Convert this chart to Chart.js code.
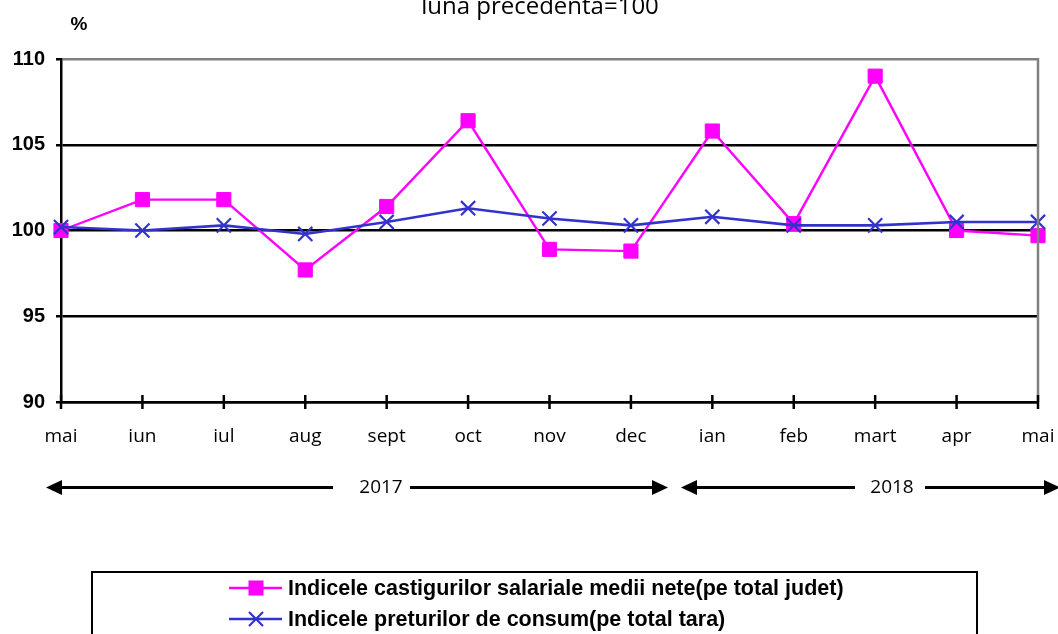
<!DOCTYPE html>
<html>
<head>
<meta charset="utf-8">
<script src="https://cdn.jsdelivr.net/npm/chart.js@4/dist/chart.umd.min.js"></script>
<style>
  html, body { margin: 0; padding: 0; background: #fff; }
  #wrap { width: 1058px; height: 634px; position: relative; }
</style>
</head>
<body>
<div id="wrap"><canvas id="c"></canvas></div>
<script>
const months = ['mai','iun','iul','aug','sept','oct','nov','dec','ian','feb','mart','apr','mai'];
const salaryIndex = [100.0, 101.8, 101.8, 97.7, 101.4, 106.4, 98.9, 98.8, 105.8, 100.4, 109.0, 100.0, 99.7];
const cpiIndex = [100.2, 100.0, 100.3, 99.8, 100.5, 101.3, 100.7, 100.3, 100.8, 100.3, 100.3, 100.5, 100.5];
const years = ['2017', '2018'];
const seriesNames = ['Indicele castigurilor salariale medii nete(pe total judet)', 'Indicele preturilor de consum(pe total tara)'];
const titleText = 'luna precedenta=100';
const unitText = '%';
const yMin = 90, yMax = 110, yStep = 5;

const PINK = '#FF00FF';
const BLUE = '#3333CC';

const decor = {
  id: 'decor',
  afterDraw(chart) {
    const ctx = chart.ctx;
    const a = chart.chartArea;
    const x = chart.scales.x;
    ctx.save();
    // right gray border
    ctx.strokeStyle = '#808080';
    ctx.lineWidth = 2.5;
    ctx.beginPath();
    ctx.moveTo(a.right, a.top - 1);
    ctx.lineTo(a.right, a.bottom);
    ctx.stroke();
    // x tick marks crossing the axis
    ctx.strokeStyle = '#000';
    ctx.lineWidth = 2.5;
    for (let i = 0; i < months.length; i++) {
      const px = x.getPixelForTick(i);
      ctx.beginPath();
      ctx.moveTo(px, a.bottom - 7);
      ctx.lineTo(px, a.bottom + 7);
      ctx.stroke();
    }
    // title
    ctx.fillStyle = '#000';
    ctx.font = '24px "Open Sans"';
    ctx.textAlign = 'center';
    ctx.textBaseline = 'alphabetic';
    ctx.fillText(titleText, 540, 14);
    // unit
    ctx.font = 'bold 19px "Liberation Sans"';
    ctx.fillText(unitText, 79, 30);

    // year arrows
    const ay = 487.5;
    function arrowLine(x1, x2, headLeft, headRight) {
      ctx.strokeStyle = '#000';
      ctx.fillStyle = '#000';
      ctx.lineWidth = 3;
      ctx.beginPath();
      ctx.moveTo(headLeft ? x1 + 10 : x1, ay);
      ctx.lineTo(headRight ? x2 - 10 : x2, ay);
      ctx.stroke();
      if (headLeft) {
        ctx.beginPath();
        ctx.moveTo(x1, ay);
        ctx.lineTo(x1 + 16, ay - 7.5);
        ctx.lineTo(x1 + 16, ay + 7.5);
        ctx.closePath();
        ctx.fill();
      }
      if (headRight) {
        ctx.beginPath();
        ctx.moveTo(x2, ay);
        ctx.lineTo(x2 - 16, ay - 7.5);
        ctx.lineTo(x2 - 16, ay + 7.5);
        ctx.closePath();
        ctx.fill();
      }
    }
    arrowLine(46, 333, true, false);
    arrowLine(410, 668, false, true);
    arrowLine(681, 855, true, false);
    arrowLine(925, 1060, false, true);
    ctx.fillStyle = '#000';
    ctx.font = '19px "Open Sans"';
    ctx.textAlign = 'center';
    ctx.textBaseline = 'middle';
    ctx.fillText(years[0], 381, ay);
    ctx.fillText(years[1], 892, ay);

    // legend box
    ctx.strokeStyle = '#000';
    ctx.lineWidth = 2;
    ctx.strokeRect(92, 572, 885, 80);
    const rows = [588, 619];
    chart.data.datasets.forEach((ds, i) => {
      const ry = rows[i];
      ctx.strokeStyle = ds.borderColor;
      ctx.lineWidth = ds.borderWidth;
      ctx.beginPath();
      ctx.moveTo(229, ry);
      ctx.lineTo(282, ry);
      ctx.stroke();
      const mx = 256;
      if (ds.pointStyle === 'rect') {
        ctx.fillStyle = ds.pointBackgroundColor;
        ctx.fillRect(mx - 7.5, ry - 7.5, 15, 15);
      } else {
        ctx.lineWidth = ds.pointBorderWidth;
        ctx.beginPath();
        ctx.moveTo(mx - 7, ry - 7); ctx.lineTo(mx + 7, ry + 7);
        ctx.moveTo(mx - 7, ry + 7); ctx.lineTo(mx + 7, ry - 7);
        ctx.stroke();
      }
      ctx.fillStyle = '#000';
      ctx.font = 'bold 21.5px "Liberation Sans"';
      ctx.textAlign = 'left';
      ctx.textBaseline = 'middle';
      ctx.fillText(ds.label, 288, ry + 1);
    });
    ctx.restore();
  }
};

new Chart(document.getElementById('c'), {
  type: 'line',
  data: {
    labels: months,
    datasets: [
      {
        label: seriesNames[0],
        data: salaryIndex,
        borderColor: PINK,
        backgroundColor: PINK,
        borderWidth: 2.4,
        pointStyle: 'rect',
        pointRadius: 10,
        pointBackgroundColor: PINK,
        pointBorderColor: PINK,
        pointBorderWidth: 1,
        tension: 0,
        clip: false,
        order: 2
      },
      {
        label: seriesNames[1],
        data: cpiIndex,
        borderColor: BLUE,
        backgroundColor: BLUE,
        borderWidth: 2.6,
        pointStyle: 'crossRot',
        pointRadius: 10,
        pointBorderColor: BLUE,
        pointBackgroundColor: BLUE,
        pointBorderWidth: 2.2,
        tension: 0,
        clip: false,
        order: 1
      }
    ]
  },
  options: {
    responsive: true,
    maintainAspectRatio: false,
    animation: false,
    devicePixelRatio: 1,
    layout: { padding: { top: 59, right: 20, left: 0, bottom: 0 } },
    plugins: {
      legend: { display: false },
      tooltip: { enabled: false },
      title: { display: false }
    },
    scales: {
      x: {
        type: 'category',
        offset: false,
        grid: { display: false, drawTicks: true, tickLength: 23, drawOnChartArea: false },
        border: { display: true, color: '#000', width: 2.5 },
        ticks: {
          color: '#000',
          font: { family: 'Open Sans', size: 19 },
          padding: 0,
          maxRotation: 0,
          autoSkip: false
        },
        afterFit(s) { s.height = 232; }
      },
      y: {
        min: yMin,
        max: yMax,
        ticks: {
          stepSize: yStep,
          color: '#000',
          font: { family: 'Liberation Sans', size: 20, weight: 'bold' },
          padding: 11
        },
        grid: {
          color: (c) => (c.tick && c.tick.value === yMax) ? '#808080' : '#000',
          lineWidth: 2.5,
          tickLength: 5,
          tickColor: '#000',
          drawTicks: true
        },
        border: { display: true, color: '#000', width: 2.5 },
        afterFit(s) { s.width = 61; }
      }
    }
  },
  plugins: [decor]
});
</script>
</body>
</html>
